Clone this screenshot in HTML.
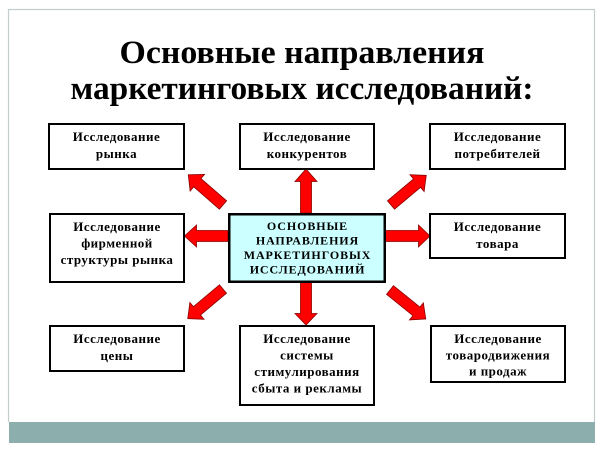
<!DOCTYPE html>
<html><head><meta charset="utf-8"><style>
html,body{margin:0;padding:0;background:#fff;}
svg{display:block;}
.t{font-family:"Liberation Serif","DejaVu Serif",serif;font-weight:bold;}
.b{font-size:13px;letter-spacing:0.5px;}
.c{font-size:12px;letter-spacing:0.9px;}
</style></head><body>
<svg width="604" height="452" viewBox="0 0 604 452" xmlns="http://www.w3.org/2000/svg">
<rect x="0" y="0" width="604" height="452" fill="#fff"/>
<path d="M8.5 422 V9.5 H594.5 V422" fill="none" stroke="#c3cdcd" stroke-width="1.2"/>
<rect x="9" y="422" width="586" height="21" fill="#8caeac"/>
<text class="t" x="302" y="63" font-size="33" text-anchor="middle" textLength="365" lengthAdjust="spacingAndGlyphs">Основные направления</text>
<text class="t" x="302" y="99" font-size="33" text-anchor="middle" textLength="463" lengthAdjust="spacingAndGlyphs">маркетинговых исследований:</text>

<g fill="#ff0000" stroke="#8a0000" stroke-width="0.8" stroke-linejoin="miter">
<polygon points="300.5,213 300.5,181.5 295,181.5 306,169 317,181.5 311.5,181.5 311.5,213"/>
<polygon points="300.5,282 300.5,313.5 295,313.5 306,325 317,313.5 311.5,313.5 311.5,282"/>
<polygon points="228,230.5 196.5,230.5 196.5,225 184.5,236 196.5,247 196.5,241.5 228,241.5"/>
<polygon points="385,230.5 418.5,230.5 418.5,225 430,236 418.5,247 418.5,241.5 385,241.5"/>
</g>
<g fill="#ff0000" stroke="#8a0000" stroke-width="0.8">
<polygon points="0,-5.5 34,-5.5 34,-11 46,0 34,11 34,5.5 0,5.5" transform="translate(223,205) rotate(-139)"/>
<polygon points="0,-5.5 34,-5.5 34,-11 46,0 34,11 34,5.5 0,5.5" transform="translate(391,205) rotate(-40)"/>
<polygon points="0,-5.5 34,-5.5 34,-11 46,0 34,11 34,5.5 0,5.5" transform="translate(223,289) rotate(140)"/>
<polygon points="0,-5.5 34,-5.5 34,-11 46,0 34,11 34,5.5 0,5.5" transform="translate(390,290) rotate(39)"/>
</g>

<g fill="#fff" stroke="#000" stroke-width="2">
<rect x="49" y="124" width="135" height="45"/>
<rect x="240" y="124" width="134" height="45"/>
<rect x="430" y="124" width="135" height="45"/>
<rect x="50" y="214" width="134" height="68"/>
<rect x="430" y="214" width="135" height="44"/>
<rect x="50" y="326" width="134" height="45"/>
<rect x="240" y="326" width="134" height="79"/>
<rect x="431" y="326" width="134" height="56"/>
</g>
<rect x="229.25" y="214.25" width="155.5" height="67.5" fill="#ccffff" stroke="#000" stroke-width="2.5"/>

<g class="t b" text-anchor="middle" fill="#000">
<text x="116.5" y="141">Исследование</text>
<text x="116.5" y="158">рынка</text>
<text x="307" y="141">Исследование</text>
<text x="307" y="158">конкурентов</text>
<text x="497.5" y="141">Исследование</text>
<text x="497.5" y="158">потребителей</text>

<text x="117" y="231">Исследование</text>
<text x="117" y="247.5">фирменной</text>
<text x="117" y="264">структуры рынка</text>

<text x="497.5" y="231">Исследование</text>
<text x="497.5" y="248">товара</text>

<text x="117" y="343">Исследование</text>
<text x="117" y="360">цены</text>

<text x="307" y="343">Исследование</text>
<text x="307" y="359.5">системы</text>
<text x="307" y="376">стимулирования</text>
<text x="307" y="392.5">сбыта и рекламы</text>

<text x="498" y="343">Исследование</text>
<text x="498" y="359.5">товародвижения</text>
<text x="498" y="375.5">и продаж</text>
</g>

<g class="t c" text-anchor="middle" fill="#000">
<text x="307.5" y="230">ОСНОВНЫЕ</text>
<text x="307.5" y="244.5">НАПРАВЛЕНИЯ</text>
<text x="307.5" y="259">МАРКЕТИНГОВЫХ</text>
<text x="307.5" y="273.5">ИССЛЕДОВАНИЙ</text>
</g>
</svg>
</body></html>
